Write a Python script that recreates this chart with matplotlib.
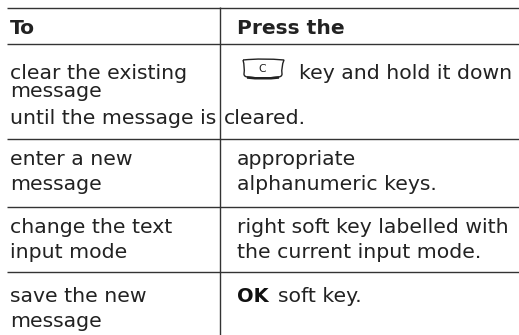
import matplotlib
matplotlib.use('Agg')
import matplotlib.pyplot as plt
from matplotlib.patches import PathPatch
from matplotlib.path import Path

header = ['To', 'Press the']
left_lines = ['clear the existing', 'message', 'until the message is', 'enter a new', 'message',
              'change the text', 'input mode', 'save the new', 'message']
left_base = [79, 97, 124, 165, 190, 233, 258, 302, 327]
right_lines = ['key and hold it down', 'cleared.', 'appropriate', 'alphanumeric keys.',
               'right soft key labelled with', 'the current input mode.', 'soft key.']
right_x = [299, 224, 237, 237, 237, 237, 278]
right_base = [79, 124, 165, 190, 233, 258, 302]
rules = [7.5, 44, 139, 207, 272]

W, H = 519, 335
fig = plt.figure(figsize=(W / 100, H / 100), dpi=100)
ax = fig.add_axes([0, 0, 1, 1])
ax.set_xlim(0, W)
ax.set_ylim(H, 0)
ax.axis('off')

ink = '#222222'
fs = 14.65

for y in rules:
    ax.plot([7, W], [y, y], color='#333333', lw=1.0, solid_capstyle='butt')
ax.plot([219.5, 219.5], [7, H], color='#333333', lw=1.0, solid_capstyle='butt')

ax.text(10, 34, header[0], fontsize=14.6, color='#222222', va='baseline', fontweight='bold')
ax.text(237, 34, header[1], fontsize=14.6, color='#222222', va='baseline', fontweight='bold')

for s, y in zip(left_lines, left_base):
    ax.text(10, y, s, fontsize=fs, color=ink, va='baseline')
for s, x, y in zip(right_lines, right_x, right_base):
    ax.text(x, y, s, fontsize=fs, color=ink, va='baseline')

ax.text(237, 302, 'OK', fontsize=14, color='#111111', va='baseline', fontweight='bold')

# the C key glyph
outline = Path([(243, 60), (263, 58), (284, 60), (281, 67), (282, 74), (282, 77), (278, 77),
                (263, 79), (248, 77), (244, 77), (244, 74), (245, 67), (243, 60)],
               [Path.MOVETO, Path.CURVE3, Path.CURVE3, Path.CURVE3, Path.CURVE3, Path.CURVE3, Path.CURVE3,
                Path.CURVE3, Path.CURVE3, Path.CURVE3, Path.CURVE3, Path.CURVE3, Path.CURVE3])
ax.add_patch(PathPatch(outline, facecolor='white', edgecolor='#222222', lw=1.0))
base = Path([(247, 77.5), (263, 79.5), (279, 77.5)], [Path.MOVETO, Path.CURVE3, Path.CURVE3])
ax.add_patch(PathPatch(base, facecolor='none', edgecolor='#222222', lw=1.8))
ax.text(262.5, 72.5, 'C', fontsize=7.8, color=ink, ha='center', va='baseline')

fig.savefig('out.png', dpi=100)
